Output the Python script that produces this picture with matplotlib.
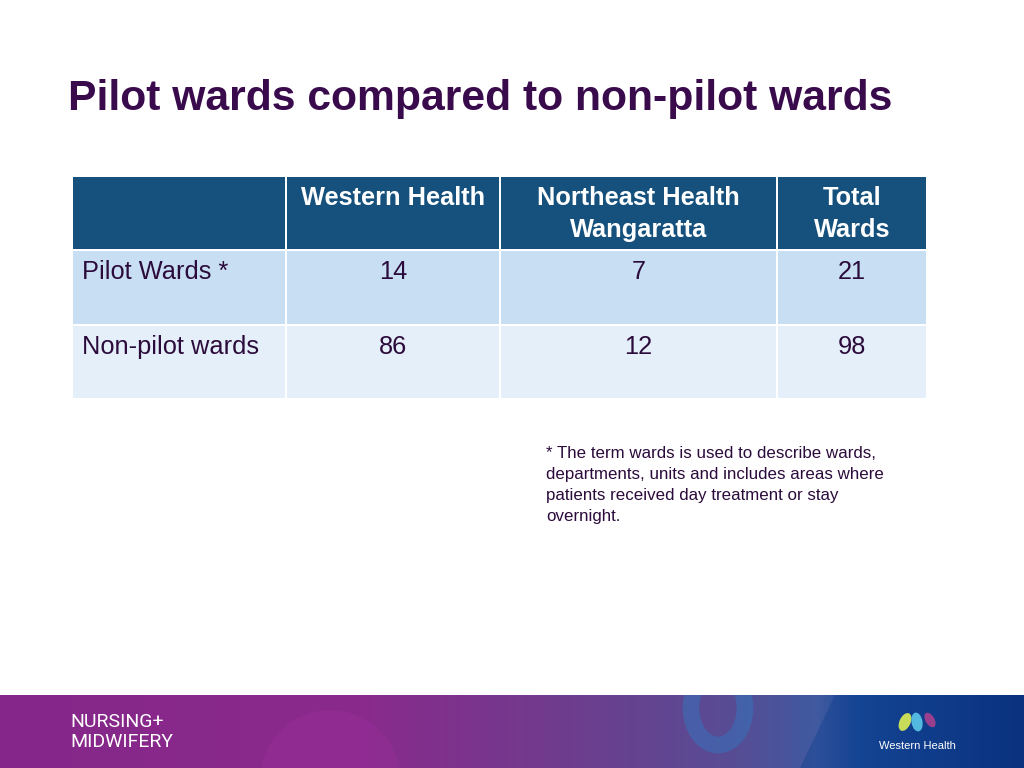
import matplotlib
matplotlib.use('Agg')
import matplotlib.pyplot as plt
from matplotlib.patches import Rectangle, Ellipse, Circle, Polygon
from matplotlib.colors import LinearSegmentedColormap
import numpy as np

# --- DATA ---
title = 'Pilot wards compared to non-pilot wards'
col_labels = ['', 'Western Health', 'Northeast Health\nWangaratta', 'Total\nWards']
row_labels = ['Pilot Wards *', 'Non-pilot wards']
western = [14, 86]
northeast = [7, 12]
total = [21, 98]
footnote = ('* The term wards is used to describe wards,\n'
            'departments, units and includes areas where\n'
            'patients received day treatment or stay\n'
            'overnight.')

# --- LAYOUT (pixels) ---
col_edges = [72, 286, 500, 777, 927]
row_edges = [176, 250, 325, 399]
header_color = '#15517c'
row_colors = ['#c8def3', '#e5eff9']
text_color = '#2b0b3b'

plt.rcParams['font.family'] = ['Liberation Sans', 'DejaVu Sans']

fig = plt.figure(figsize=(10.24, 7.68), dpi=100)
ax = fig.add_axes([0, 0, 1, 1])
ax.set_xlim(0, 1024)
ax.set_ylim(768, 0)
ax.axis('off')

ax.text(68, 99, title, fontsize=30.7, fontweight='bold', color='#3a0b4c',
        ha='left', va='center')

# table cells
values = np.column_stack([western, northeast, total])
gap = 1.2
for r in range(3):
    y0, y1 = row_edges[r], row_edges[r + 1]
    color = header_color if r == 0 else row_colors[r - 1]
    for c in range(4):
        x0, x1 = col_edges[c], col_edges[c + 1]
        ax.add_patch(Rectangle((x0 + gap, y0 + gap), x1 - x0 - 2 * gap, y1 - y0 - 2 * gap,
                               facecolor=color, edgecolor='none'))
        xc = (x0 + x1) / 2
        if r == 0:
            if col_labels[c]:
                ax.text(xc, y0 + 10, col_labels[c], fontsize=18.3, fontweight='bold',
                        color='white', ha='center', va='top', linespacing=1.42)
        else:
            if c == 0:
                ax.text(x0 + 10, y0 + 22, row_labels[r - 1], fontsize=18.3,
                        color=text_color, ha='left', va='center')
            else:
                ax.text(xc, y0 + 22, str(values[r - 1, c - 1]), fontsize=18.3,
                        color=text_color, ha='center', va='center')

ax.text(546, 446, footnote, fontsize=12.2, color=text_color, ha='left', va='top',
        linespacing=1.5)

# --- bottom banner ---
cmap = LinearSegmentedColormap.from_list('banner', [
    (0.0, '#85278a'), (0.35, '#8a2a8c'), (0.55, '#6f3c8e'),
    (0.72, '#574d95'), (0.80, '#3f5aa0'), (0.84, '#1a4a98'), (1.0, '#0b2f78')])
grad = np.linspace(0, 1, 1024).reshape(1, -1)
ax.imshow(grad, cmap=cmap, extent=[0, 1024, 768, 695], aspect='auto', zorder=1,
          interpolation='bilinear')
ax.set_ylim(768, 0)
banner = Rectangle((0, 695), 1024, 73, transform=ax.transData, facecolor='none',
                   edgecolor='none')
ax.add_patch(banner)
blob = Circle((330, 780), 70, facecolor='#a030a0', alpha=0.3, edgecolor='none', zorder=2)
ring = Ellipse((718, 708), 54, 74, facecolor='none', edgecolor='#2a80c8',
               linewidth=12, alpha=0.4, zorder=2)
shade = Polygon([[835, 695], [1024, 695], [1024, 768], [800, 768]], closed=True,
                facecolor='#0a3a8c', alpha=0.35, edgecolor='none', zorder=2)
for p in (blob, ring, shade):
    ax.add_patch(p)
    p.set_clip_path(banner)

ax.text(70, 722, 'NURSING+', fontsize=14, color='white', ha='left', va='center',
        family='Roboto', zorder=3)
ax.text(70, 742, 'MIDWIFERY', fontsize=14, color='white', ha='left', va='center',
        family='Roboto', zorder=3)

ax.add_patch(Ellipse((905, 722), 11, 19, angle=25, facecolor='#c8dc5a', zorder=3))
ax.add_patch(Ellipse((917, 722), 11, 19, angle=-10, facecolor='#5cc8e8', alpha=0.9, zorder=3))
ax.add_patch(Ellipse((930, 720), 9, 16, angle=-30, facecolor='#9a3f8e', zorder=3))
ax.text(917, 746, 'Western Health', fontsize=8, color='white', ha='center',
        va='center', zorder=3)

fig.savefig('out.png', dpi=100)
